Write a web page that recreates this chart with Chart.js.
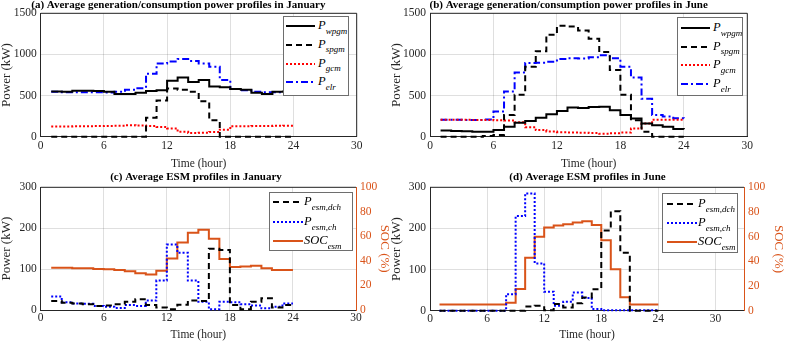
<!DOCTYPE html>
<html>
<head>
<meta charset="utf-8">
<title>Average profiles</title>
<script src="https://cdn.jsdelivr.net/npm/chart.js@4.4.1/dist/chart.umd.min.js"></script>
<style>
  body { margin: 0; background: #fff; }
  #wrap { position: relative; width: 785px; height: 343px; overflow: hidden;
          font-family: 'Liberation Serif', 'Times New Roman', serif; }
  canvas { position: absolute; }
  .legend { position: absolute; background: #fff; border: 1px solid #6e6e6e; box-sizing: border-box; }
  .row { position: absolute; left: 0; right: 0; height: 14px; white-space: nowrap; }
  .row svg { position: absolute; top: 4px; }
  .row .lab { position: absolute; top: 0; font-style: italic; font-size: 12.5px; line-height: 13px; color: #000; }
  .row sub { font-size: 9px; position: relative; top: 4.5px; vertical-align: baseline; }
</style>
</head>
<body>
<div id="wrap">
  <canvas id="chartA" width="392" height="172" style="left:0;top:0"></canvas>
  <canvas id="chartB" width="395" height="172" style="left:390px;top:0"></canvas>
  <canvas id="chartC" width="392" height="171" style="left:0;top:172px"></canvas>
  <canvas id="chartD" width="395" height="171" style="left:390px;top:172px"></canvas>
</div>
<script>
// hours of the day (stairs start at each hour)
const hours = [1, 2, 3, 4, 5, 6, 7, 8, 9, 10, 11, 12, 13, 14, 15, 16, 17, 18, 19, 20, 21, 22, 23, 24];
const xTicks = [0, 6, 12, 18, 24, 30];
const powerTicksGen = [0, 500, 1000, 1500];
const powerTicksEsm = [0, 100, 200, 300];
const socTicks = [0, 20, 40, 60, 80, 100];

// (a) January generation/consumption (kW)
const janWpgm = [550, 545, 560, 560, 555, 545, 520, 520, 535, 555, 565, 680, 720, 665, 690, 610, 600, 580, 570, 535, 520, 545, 550, 550];
const janSpgm = [0, 0, 0, 0, 0, 0, 0, 0, 0, 230, 440, 585, 570, 545, 430, 200, 0, 0, 0, 0, 0, 0, 0, 0];
const janGcm = [125, 125, 127, 128, 130, 131, 133, 140, 135, 130, 118, 100, 60, 45, 48, 58, 85, 128, 128, 130, 130, 132, 133, 133];
const janElr = [545, 540, 540, 540, 540, 538, 545, 570, 590, 765, 890, 915, 945, 920, 890, 850, 690, 580, 565, 545, 540, 540, 545, 545];

// (b) June generation/consumption (kW)
const junWpgm = [75, 70, 65, 60, 60, 80, 120, 170, 190, 230, 272, 312, 355, 350, 362, 365, 320, 265, 220, 160, 140, 120, 95, 90];
const junSpgm = [0, 0, 0, 0, 10, 20, 265, 510, 850, 1040, 1240, 1350, 1340, 1290, 1190, 1030, 810, 510, 200, 60, 0, 0, 0, 0];
const junGcm = [205, 205, 205, 203, 203, 200, 198, 175, 115, 80, 62, 55, 52, 48, 45, 35, 42, 50, 100, 160, 205, 205, 205, 205];
const junElr = [205, 205, 203, 203, 210, 305, 550, 780, 895, 900, 910, 945, 955, 950, 965, 990, 955, 850, 720, 460, 265, 245, 225, 220];

// (c) January ESM (kW and %)
const janDch = [22, 18, 16, 14, 10, 11, 14, 20, 26, 12, 6, 2, 13, 23, 22, 150, 147, 12, 2, 20, 29, 6, 12, 12];
const janCh = [33, 19, 16, 15, 10, 8, 5, 12, 10, 23, 72, 160, 140, 72, 20, 2, 20, 19, 14, 11, 4, 8, 16, 16];
const janSoc = [34.5, 34.5, 34, 34, 33.5, 33.3, 32.5, 31.5, 30, 29, 32, 42, 55, 63, 65.5, 58, 41.5, 35, 35.5, 36, 34, 32.5, 32.5, 32.5];

// (d) June ESM (kW and %)
const junDch = [0, 0, 0, 0, 0, 0, 0, 0, 0, 10, 12, 1, 16, 8, 18, 32, 52, 195, 242, 141, 0, 0, 0, 0];
const junCh = [0, 0, 0, 0, 0, 0, 0, 40, 230, 285, 115, 46, 12, 22, 44, 31, 4, 1, 1, 1, 1, 1, 1, 1];
const junSoc = [5, 5, 5, 5, 5, 5, 5, 6.5, 17.5, 43, 60, 67.5, 69, 70, 71.5, 72.5, 69.5, 57, 33.5, 11, 5, 5, 5, 5];

const axisColor = '#262626';
const gridColor = 'rgba(38,38,38,0.15)';
const orange = '#D95319';
const DASH = [6, 4], DOT = [2, 2], DASHDOT = [7, 3, 2, 3];

Chart.defaults.font.family = "'Liberation Serif', 'Times New Roman', serif";

function stairs(values) {
  return hours.map((h, i) => ({ x: h, y: values[i] }));
}

function line(values, color, dash, axis) {
  return {
    data: stairs(values), borderColor: color, borderWidth: 2, borderDash: dash,
    stepped: 'before', pointRadius: 0, fill: false, clip: false, yAxisID: axis || 'y'
  };
}

function setTicks(list) {
  return axis => { axis.ticks = list.map(v => ({ value: v })); };
}

const plain = v => String(v);

// top edge (and right edge when there's no SOC axis) of the axes box
const boxPlugin = {
  id: 'box',
  afterDraw(chart) {
    const { ctx, chartArea: a } = chart;
    ctx.save();
    ctx.strokeStyle = axisColor;
    ctx.lineWidth = 1;
    ctx.beginPath();
    ctx.moveTo(a.left, a.top);
    ctx.lineTo(a.right, a.top);
    if (!chart.options.scales.y1) ctx.lineTo(a.right, a.bottom);
    ctx.stroke();
    ctx.restore();
  }
};

function makeChart(id, cfg) {
  const scales = {
    x: {
      type: 'linear', min: 0, max: cfg.xMax,
      afterBuildTicks: setTicks(xTicks),
      afterFit: s => { s.height = cfg.xh; },
      grid: { color: gridColor, drawTicks: false },
      border: { color: axisColor, width: 1 },
      ticks: { color: axisColor, padding: cfg.xpad, maxRotation: 0, font: { size: 11.5 }, callback: plain },
      title: { display: true, text: 'Time (hour)', color: axisColor,
               font: { size: 11.5, lineHeight: 1 }, padding: { top: 0, bottom: 2.4 } }
    },
    y: {
      min: 0, max: cfg.yMax,
      afterBuildTicks: setTicks(cfg.yTicks),
      afterFit: s => { s.width = cfg.yw; },
      grid: { color: gridColor, drawTicks: false },
      border: { color: axisColor, width: 1 },
      ticks: { color: axisColor, padding: 4, font: { size: 11.5 }, callback: plain },
      title: { display: true, text: 'Power (kW)', color: axisColor,
               font: { size: 13, lineHeight: 1 }, padding: { top: 0, bottom: 0 } }
    }
  };
  if (cfg.y1w) {
    scales.y1 = {
      position: 'right', min: 0, max: 100,
      afterBuildTicks: setTicks(socTicks),
      afterFit: s => { s.width = cfg.y1w; },
      grid: { display: false, drawTicks: false },
      border: { color: orange, width: 1 },
      ticks: { color: orange, padding: 4, font: { size: 11.5 }, callback: plain },
      title: { display: true, text: 'SOC (%)', color: orange,
               font: { size: 13, lineHeight: 1 }, padding: { top: cfg.y1tpad, bottom: 0 } }
    };
  }
  new Chart(document.getElementById(id), {
    type: 'line',
    data: { datasets: cfg.datasets },
    options: {
      responsive: false,
      animation: false,
      layout: { padding: { right: cfg.padRight || 0 } },
      plugins: {
        legend: { display: false },
        tooltip: { enabled: false },
        title: {
          display: true, text: cfg.title, color: '#000',
          font: { size: 11, weight: 'bold', lineHeight: 1 },
          padding: { top: 0, bottom: cfg.tpad }
        }
      },
      scales
    },
    plugins: [boxPlugin]
  });
}

makeChart('chartA', {
  title: '(a) Average generation/consumption power profiles in January',
  xMax: 30, yMax: 1500, yTicks: powerTicksGen, yw: 40.7, padRight: 35.3, xh: 35.3, xpad: 2, tpad: 2.3,
  datasets: [
    line(janWpgm, '#000000', []),
    line(janSpgm, '#000000', DASH),
    line(janGcm, '#ff0000', DOT),
    line(janElr, '#0000ff', DASHDOT)
  ]
});

makeChart('chartB', {
  title: '(b) Average generation/consumption power profiles in June',
  xMax: 30, yMax: 1500, yTicks: powerTicksGen, yw: 40, padRight: 37.7, xh: 35.3, xpad: 2, tpad: 2.3,
  datasets: [
    line(junWpgm, '#000000', []),
    line(junSpgm, '#000000', DASH),
    line(junGcm, '#ff0000', DOT),
    line(junElr, '#0000ff', DASHDOT)
  ]
});

makeChart('chartC', {
  title: '(c) Average ESM profiles in January',
  xMax: 30, yMax: 300, yTicks: powerTicksEsm, yw: 40.7, y1w: 36, y1tpad: 1.5, xh: 33, xpad: 1, tpad: 4.3,
  datasets: [
    line(janDch, '#000000', DASH),
    line(janCh, '#0000ff', DOT),
    line(janSoc, orange, [], 'y1')
  ]
});

makeChart('chartD', {
  title: '(d) Average ESM profiles in June',
  xMax: 33, yMax: 300, yTicks: powerTicksEsm, yw: 40, y1w: 41, y1tpad: 0.5, xh: 32.3, xpad: 1, tpad: 4.3,
  datasets: [
    line(junDch, '#000000', DASH),
    line(junCh, '#0000ff', DOT),
    line(junSoc, orange, [], 'y1')
  ]
});

// legends with subscripts, drawn as html text
const genRows = [
  { color: '#000000', dash: [], main: 'P', sub: 'wpgm' },
  { color: '#000000', dash: DASH, main: 'P', sub: 'spgm' },
  { color: '#ff0000', dash: DOT, main: 'P', sub: 'gcm' },
  { color: '#0000ff', dash: DASHDOT, main: 'P', sub: 'elr' }
];
const esmRows = [
  { color: '#000000', dash: DASH, main: 'P', sub: 'esm,dch' },
  { color: '#0000ff', dash: DOT, main: 'P', sub: 'esm,ch' },
  { color: orange, dash: [], main: 'SOC', sub: 'esm' }
];

function makeLegend(box, rows, rowY) {
  const wrap = document.getElementById('wrap');
  const el = document.createElement('div');
  el.className = 'legend';
  Object.assign(el.style, { left: box.left + 'px', top: box.top + 'px', width: box.width + 'px', height: box.height + 'px' });
  rows.forEach((r, i) => {
    const row = document.createElement('div');
    row.className = 'row';
    row.style.top = (rowY[i] - 7) + 'px';
    row.innerHTML =
      '<svg width="' + box.lineLen + '" height="6" style="left:' + box.lineX + 'px">' +
      '<line x1="0" y1="3" x2="' + box.lineLen + '" y2="3" stroke="' + r.color + '" stroke-width="2" stroke-dasharray="' +
      (r.dash.length ? r.dash.join(',') : 'none') + '"/></svg>' +
      '<span class="lab" style="left:' + box.textX + 'px;top:0">' + r.main + '<sub>' + r.sub + '</sub></span>';
    el.appendChild(row);
  });
  wrap.appendChild(el);
}

makeLegend({ left: 283, top: 16, width: 66, height: 80, lineX: 2, lineLen: 29, textX: 34 }, genRows, [9, 27.5, 46.5, 65]);
makeLegend({ left: 677, top: 17, width: 66, height: 79, lineX: 3, lineLen: 29, textX: 35 }, genRows, [10, 28.5, 47, 66]);
makeLegend({ left: 269, top: 192, width: 84, height: 59, lineX: 3, lineLen: 30, textX: 34 }, esmRows, [9, 29, 48]);
makeLegend({ left: 662, top: 193, width: 76, height: 60, lineX: 4, lineLen: 30, textX: 35 }, esmRows, [10, 29, 48]);
</script>
</body>
</html>
